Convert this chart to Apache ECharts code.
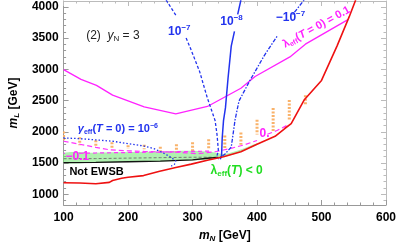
<!DOCTYPE html>
<html><head><meta charset="utf-8">
<script src="https://cdn.jsdelivr.net/npm/echarts@6/dist/echarts.min.js"></script>
<style>html,body{margin:0;padding:0;background:#fff}#c{width:399px;height:248px}</style>
</head><body><div id="c"></div>
<script>
// ---- axes / ticks ----
const xMin = 100, xMax = 600, yMin = 827, yMax = 4094;
const xTicks = [100,200,300,400,500,600];
const xMinor = [120,140,160,180,220,240,260,280,320,340,360,380,420,440,460,480,520,540,560,580];
const yTicks = [1000,1500,2000,2500,3000,3500,4000];
const yMinor = [900,1100,1200,1300,1400,1600,1700,1800,1900,2100,2200,2300,2400,2600,2700,2800,2900,3100,3200,3300,3400,3600,3700,3800,3900,4100];

// ---- curves (m_N, m_L) ----
const redX = [100,125,150,171,176,190,200,224,249,274,298,323,348,375,400,428,443,453,473,500,524,543,553];
const redY = [1184,1180,1168,1190,1220,1255,1272,1298,1366,1429,1482,1545,1600,1680,1800,1927,2052,2130,2508,2822,3372,3843,4110];

const magX = [100,127,151,176,225,274,323,375,397,451,475,541];
const magY = [2995,2838,2743,2586,2398,2288,2405,2696,2885,3199,3403,3796];

const mag0X = [100,125,150,171,200,225,250,269,290,308,335,357,380,400,null,416,431,446];
const mag0Y = [1848,1800,1750,1711,1695,1685,1678,1675,1662,1649,1680,1727,1790,1860,null,1960,2020,2100];

const magm1X = [100,102,null,124,150,200,250,300,330];
const magm1Y = [1655,1655,null,1655,1660,1668,1675,1685,1690];

const bDotX = [100,125,150,176,200,225,240,254,265,274,272,267];
const bDotY = [1900,1890,1870,1848,1810,1770,1730,1664,1600,1534,1480,1450];

const b7X = [259,275,null,290,296,311,323,335,338,340,337];
const b7Y = [4110,3850,null,3500,3356,2963,2539,2178,1950,1707,1570];

const b8X = [375,370,null,365,360,355,351,348,346,345,343];
const b8Y = [4110,3880,null,3607,3372,2853,2382,2178,1900,1620,1560];

const bm7X = [473,455,null,431,411,389,372,366,360,350,340];
const bm7Y = [4110,3874,null,3529,3216,2822,2492,2194,1754,1640,1565];

const blkX = [100,150,200,250,300,323,340];
const blkY = [1507,1510,1520,1530,1550,1576,1590];

const grayX = [100,150,200,250,300,340];
const grayY = [1568,1570,1578,1585,1592,1592];

// green region λ_eff(T) < 0 : upper edge then lower edge
const greenUpX = [100,150,200,250,300,330,350,375,400];
const greenUpY = [1660,1665,1675,1685,1695,1675,1645,1715,1815];
const greenLoX = [400,375,350,330,300,250,200,150,100];
const greenLoY = [1790,1680,1600,1560,1540,1525,1515,1508,1505];

// orange dotted columns
const orangeX   = [100,125,150,175,200,225,250,275,300,325,350,375,400,425,450,475];
const orangeTop = [2005,1911,1864,1832,1785,1790,1760,1800,1830,1880,1940,1990,2194,2382,2508,2586];
const orangeBot = [1864,1785,1754,1722,1722,1720,1680,1675,1690,1720,1740,1790,1958,2005,2178,2429];

// ---- annotations: left edge / vertical middle in data coordinates ----
const notes = [
  {x:135, y:3544, text:'(2)  {i|y}{sub|N} = 3', color:'#222', bold:false, size:12},
  {x:262, y:3607, text:'10{sup|−7}', color:'#2233ee', bold:true, size:12},
  {x:343, y:3764, text:'10{sup|−8}', color:'#2233ee', bold:true, size:12},
  {x:429, y:3827, text:'−10{sup|−7}', color:'#2233ee', bold:true, size:12},
  {x:441, y:3387, text:'λ{sub|eff}({i|T} = 0) = 0.1', color:'#ff22ff', bold:true, size:11, rot:0.5},
  {x:122, y:2037, text:'{i|γ}{sub|eff}({i|T} = 0) = 10{sup|−6}', color:'#2233ee', bold:true, size:11},
  {x:103, y:1597, text:'−0.1', color:'#ff22ff', bold:true, size:12},
  {x:404, y:1974, text:'0.', color:'#ff22ff', bold:true, size:12},
  {x:109, y:1361, text:'Not EWSB', color:'#000', bold:true, size:11},
  {x:328, y:1377, text:'λ{sub|eff}({i|T}) < 0', color:'#22dd22', bold:true, size:12}
];

const FONT = "'Liberation Sans', Arial, sans-serif";
const chart = echarts.init(document.getElementById('c'), null, {renderer:'canvas'});

function pts(xs, ys){ return xs.map((x,i)=> (x===null||ys[i]===null) ? ['-','-'] : [x, ys[i]]); }
function line(xs, ys, color, width, type, z){
  return {type:'line', data:pts(xs,ys), showSymbol:false, symbol:'none', connectNulls:false,
    lineStyle:{color, width, type}, z:z||3, silent:true, animation:false, clip:true};
}
const plain = v => String(v);
function xAx(pos, major, showLbl){
  return {type:'value', min:xMin, max:xMax, position:pos,
    axisLine:{show:major, lineStyle:{color: pos==='bottom'?'#999':'#bbb', width:1}},
    axisTick:{show:true, inside:true, length: major?5:2.5, customValues: major?xTicks:xMinor,
      lineStyle:{color: pos==='bottom'?'#999':'#bbb'}},
    axisLabel:{show:showLbl, customValues:xTicks, formatter:plain, color:'#000', fontWeight:'bold', fontSize:12, fontFamily:FONT, margin:7},
    splitLine:{show:false},
    name: showLbl ? '{i|m}{sub|N} [GeV]' : '', nameLocation:'middle', nameGap:24,
    nameTextStyle:{color:'#000', fontWeight:'bold', fontSize:12, fontFamily:FONT,
      rich:{i:{fontStyle:'italic', fontWeight:'bold', fontSize:12, fontFamily:FONT},
            sub:{fontSize:8, fontWeight:'bold', fontStyle:'italic', padding:[6,0,0,0], fontFamily:FONT}}}
  };
}
function yAx(pos, major, showLbl){
  return {type:'value', min:yMin, max:yMax, position:pos,
    axisLine:{show:major, lineStyle:{color: pos==='left'?'#999':'#bbb', width:1}},
    axisTick:{show:true, inside:true, length: major?5:2.5, customValues: major?yTicks:yMinor,
      lineStyle:{color: pos==='left'?'#999':'#bbb'}},
    axisLabel:{show:showLbl, customValues:yTicks, formatter:plain, color:'#000', fontWeight:'bold', fontSize:12, fontFamily:FONT, margin:5},
    splitLine:{show:false},
    name: showLbl ? '{i|m}{sub|L} [GeV]' : '', nameLocation:'middle', nameGap:36, nameRotate:90,
    nameTextStyle:{color:'#000', fontWeight:'bold', fontSize:12, fontFamily:FONT,
      rich:{i:{fontStyle:'italic', fontWeight:'bold', fontSize:12, fontFamily:FONT},
            sub:{fontSize:8, fontWeight:'bold', fontStyle:'italic', padding:[6,0,0,0], fontFamily:FONT}}}
  };
}

const option = {
  animation:false,
  backgroundColor:'#fff',
  grid:{left:48, right:11, top:1, bottom:39, containLabel:false},
  xAxis:[xAx('bottom',true,true), xAx('bottom',false,false), xAx('top',true,false), xAx('top',false,false)],
  yAxis:[yAx('left',true,true), yAx('left',false,false), yAx('right',true,false), yAx('right',false,false)],
  series:[
    {type:'custom', silent:true, z:1, data:[[0]], clip:true,
      renderItem:function(params, api){
        const p = [];
        greenUpX.forEach((x,i)=>p.push(api.coord([x, greenUpY[i]])));
        greenLoX.forEach((x,i)=>p.push(api.coord([x, greenLoY[i]])));
        return {type:'polygon', shape:{points:p, smooth:0.3}, style:{fill:'rgba(110,230,110,0.55)'}};
      }},
    {type:'custom', silent:true, z:2, clip:true,
      data: orangeX.map((x,i)=>[x, orangeTop[i], orangeBot[i]]),
      encode:{x:0, y:[1,2]},
      renderItem:function(params, api){
        const a = api.coord([api.value(0), api.value(1)]);
        const b = api.coord([api.value(0), api.value(2)]);
        return {type:'line', shape:{x1:a[0], y1:a[1], x2:b[0], y2:b[1]},
          style:{stroke:'#f9b26a', lineWidth:3, lineDash:[2,1.5]}};
      }},
    line(grayX, grayY, '#777', 1, [3,2], 3),
    line(blkX, blkY, '#111', 1.3, 'solid', 3),
    line(magm1X, magm1Y, '#ff33ff', 1.2, [4,3], 4),
    line(mag0X, mag0Y, '#ff33ff', 1.2, [5,3], 4),
    line(magX, magY, '#ff22ff', 1.3, 'solid', 4),
    line(bDotX, bDotY, '#2233ee', 1.3, [1.5,2], 5),
    line(b7X, b7Y, '#2233ee', 1.3, [3,2], 5),
    line(b8X, b8Y, '#2233ee', 1.5, 'solid', 5),
    line(bm7X, bm7Y, '#2233ee', 1.3, [1.5,1.5,4,1.5], 5),
    line(redX, redY, '#ee1111', 1.6, 'solid', 6)
  ]
};
chart.setOption(option);

const graphics = notes.map(n=>{
  const p = chart.convertToPixel({xAxisIndex:0, yAxisIndex:0}, [n.x, n.y]);
  const fw = n.bold ? 'bold' : 'normal';
  return {type:'text', x:p[0], y:p[1], rotation:n.rot||0, z:20, silent:true,
    style:{text:n.text, fill:n.color, fontSize:n.size, fontWeight:fw, fontFamily:FONT,
      align:'left', verticalAlign:'middle',
      rich:{
        i:{fontStyle:'italic', fontWeight:fw, fontSize:n.size, fill:n.color, fontFamily:FONT},
        sub:{fontSize:n.size-4, fontWeight:fw, fill:n.color, padding:[6,0,0,0], fontFamily:FONT},
        sup:{fontSize:n.size-4, fontWeight:fw, fill:n.color, padding:[0,0,7,0], fontFamily:FONT}
      }}};
});
chart.setOption({graphic:graphics});
</script></body></html>
